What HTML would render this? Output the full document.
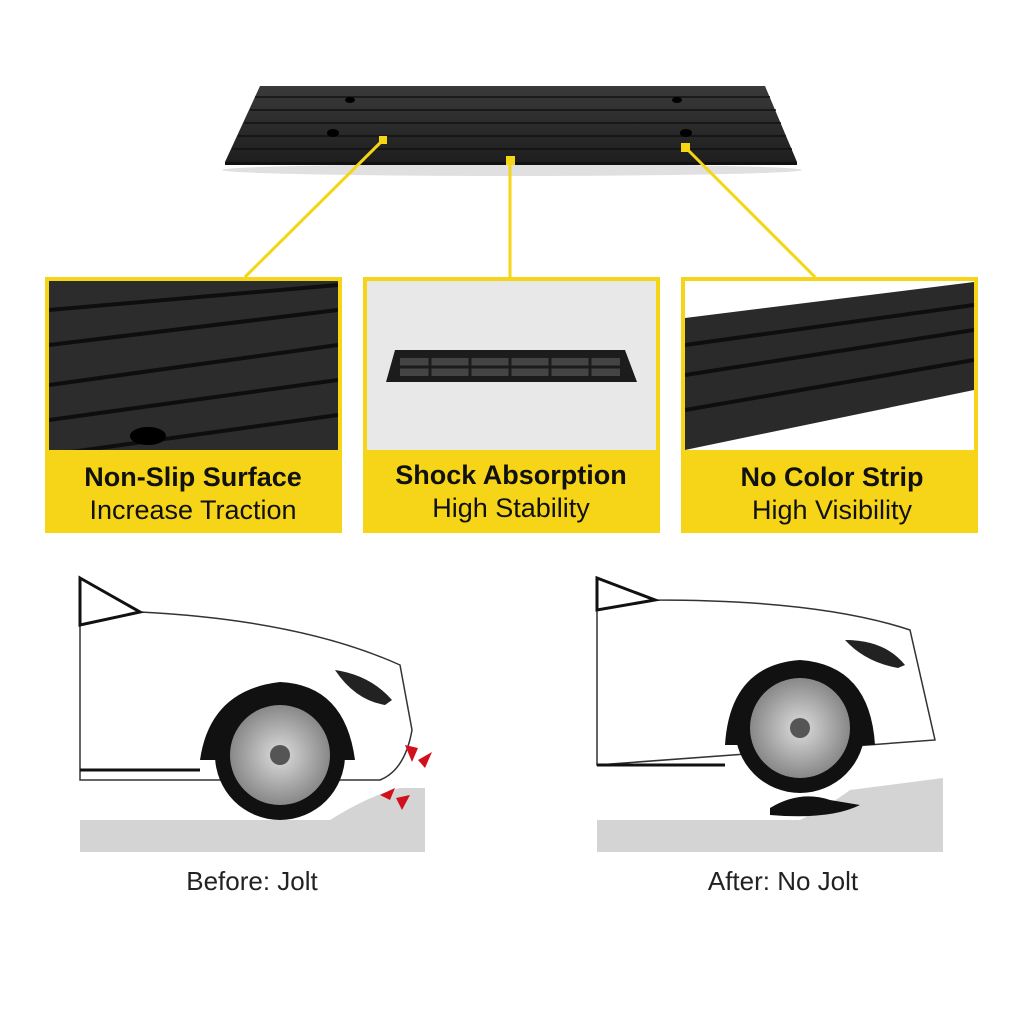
<!DOCTYPE html>
<html><head><meta charset="utf-8"><style>
body{margin:0;background:#fff;width:1024px;height:1024px;overflow:hidden;font-family:"Liberation Sans",sans-serif}
</style></head><body>
<svg width="1024" height="1024" viewBox="0 0 1024 1024" xmlns="http://www.w3.org/2000/svg">
<defs>
<linearGradient id="g1" x1="0" y1="0" x2="0" y2="1"><stop offset="0" stop-color="#3a3a3a"/><stop offset="1" stop-color="#1e1e1e"/></linearGradient>
<radialGradient id="rim"><stop offset="0" stop-color="#ddd"/><stop offset="1" stop-color="#888"/></radialGradient>
<clipPath id="c1"><rect x="49" y="281" width="289" height="169"/></clipPath>
<clipPath id="c3"><rect x="685" y="281" width="289" height="169"/></clipPath>
</defs>
<ellipse cx="512" cy="170" rx="290" ry="6" fill="#ccc" opacity="0.6"/>
<polygon points="260,86 765,86 797,162 225,162" fill="url(#g1)"/>
<g stroke="#111" stroke-width="1.5">
<line x1="255" y1="97" x2="770" y2="97"/><line x1="250" y1="110" x2="776" y2="110"/><line x1="244" y1="123" x2="781" y2="123"/><line x1="238" y1="136" x2="786" y2="136"/><line x1="232" y1="149" x2="792" y2="149"/>
</g>
<polygon points="225,162 797,162 797,165 225,165" fill="#111"/>
<g fill="#000"><ellipse cx="350" cy="100" rx="5" ry="3"/><ellipse cx="677" cy="100" rx="5" ry="3"/><ellipse cx="333" cy="133" rx="6" ry="4"/><ellipse cx="686" cy="133" rx="6" ry="4"/></g>
<g stroke="#f5d515" stroke-width="3" fill="#f5d515">
<line x1="383" y1="140" x2="245" y2="277"/><line x1="510" y1="160" x2="510" y2="277"/><line x1="686" y1="148" x2="815" y2="277"/>
<rect x="379" y="136" width="8" height="8" stroke="none"/><rect x="506" y="156" width="9" height="9" stroke="none"/><rect x="681" y="143" width="9" height="9" stroke="none"/>
</g>
<rect x="45" y="277" width="297" height="256" fill="#f6d418"/>
<rect x="363" y="277" width="297" height="256" fill="#f6d418"/>
<rect x="681" y="277" width="297" height="256" fill="#f6d418"/>
<g clip-path="url(#c1)"><rect x="49" y="281" width="289" height="169" fill="#2c2c2c"/>
<g stroke="#0e0e0e" stroke-width="4"><line x1="49" y1="310" x2="338" y2="285"/><line x1="49" y1="345" x2="338" y2="310"/><line x1="49" y1="385" x2="338" y2="345"/><line x1="49" y1="420" x2="338" y2="380"/><line x1="49" y1="455" x2="338" y2="415"/></g>
<ellipse cx="148" cy="436" rx="18" ry="9" fill="#000"/></g>
<rect x="367" y="281" width="289" height="169" fill="#e8e8e8"/>
<polygon points="395,350 625,350 637,382 386,382" fill="#1c1c1c"/>
<g fill="#444"><rect x="400" y="358" width="220" height="18"/></g>
<g stroke="#1c1c1c" stroke-width="3"><line x1="400" y1="367" x2="620" y2="367"/><line x1="430" y1="356" x2="430" y2="378"/><line x1="470" y1="356" x2="470" y2="378"/><line x1="510" y1="356" x2="510" y2="378"/><line x1="550" y1="356" x2="550" y2="378"/><line x1="590" y1="356" x2="590" y2="378"/></g>
<g clip-path="url(#c3)"><rect x="685" y="281" width="289" height="169" fill="#fff"/>
<polygon points="685,318 974,282 974,390 685,450" fill="#2a2a2a"/>
<g stroke="#0e0e0e" stroke-width="4"><line x1="685" y1="345" x2="974" y2="305"/><line x1="685" y1="375" x2="974" y2="330"/><line x1="685" y1="410" x2="974" y2="360"/></g></g>
<g font-size="27" text-anchor="middle" fill="#111">
<text x="193" y="486" font-weight="bold">Non-Slip Surface</text><text x="193" y="519">Increase Traction</text>
<text x="511" y="484" font-weight="bold">Shock Absorption</text><text x="511" y="517">High Stability</text>
<text x="832" y="486" font-weight="bold">No Color Strip</text><text x="832" y="519">High Visibility</text>
</g>
<path d="M80,820 L330,820 Q370,795 400,788 L425,788 L425,852 L80,852Z" fill="#d4d4d4"/>
<path d="M80,578 L140,612 Q300,620 400,665 L412,730 Q405,770 380,780 L80,780Z" fill="#fff" stroke="#333" stroke-width="1.5"/>
<path d="M80,578 L140,612 L80,625Z" fill="#fff" stroke="#111" stroke-width="3"/>
<path d="M335,670 Q370,675 392,700 L385,705 Q355,700 335,670Z" fill="#222"/>
<path d="M200,760 Q210,690 280,682 Q345,685 355,760Z" fill="#111"/>
<circle cx="280" cy="755" r="65" fill="#111"/><circle cx="280" cy="755" r="50" fill="url(#rim)"/><circle cx="280" cy="755" r="10" fill="#555"/>
<line x1="80" y1="770" x2="200" y2="770" stroke="#111" stroke-width="3"/>
<g fill="#d0101a"><polygon points="405,745 412,762 418,748"/><polygon points="418,760 432,752 425,768"/><polygon points="380,795 395,788 390,800"/><polygon points="396,798 410,795 402,810"/></g>
<path d="M597,820 L800,820 Q830,805 850,790 L943,778 L943,852 L597,852Z" fill="#d4d4d4"/>
<path d="M770,808 Q800,790 830,800 L860,805 Q830,820 770,815Z" fill="#111"/>
<path d="M597,578 L655,600 Q820,600 910,630 L935,740 L597,765Z" fill="#fff" stroke="#333" stroke-width="1.5"/>
<path d="M597,578 L655,600 L597,610Z" fill="#fff" stroke="#111" stroke-width="3"/>
<path d="M845,640 Q885,640 905,665 L898,668 Q865,662 845,640Z" fill="#222"/>
<path d="M725,745 Q730,665 800,660 Q870,665 875,745Z" fill="#111"/>
<circle cx="800" cy="728" r="65" fill="#111"/><circle cx="800" cy="728" r="50" fill="url(#rim)"/><circle cx="800" cy="728" r="10" fill="#555"/>
<line x1="597" y1="765" x2="725" y2="765" stroke="#111" stroke-width="3"/>
<g font-size="26" text-anchor="middle" fill="#222">
<text x="252" y="890">Before: Jolt</text><text x="783" y="890">After: No Jolt</text></g>
</svg>
</body></html>
